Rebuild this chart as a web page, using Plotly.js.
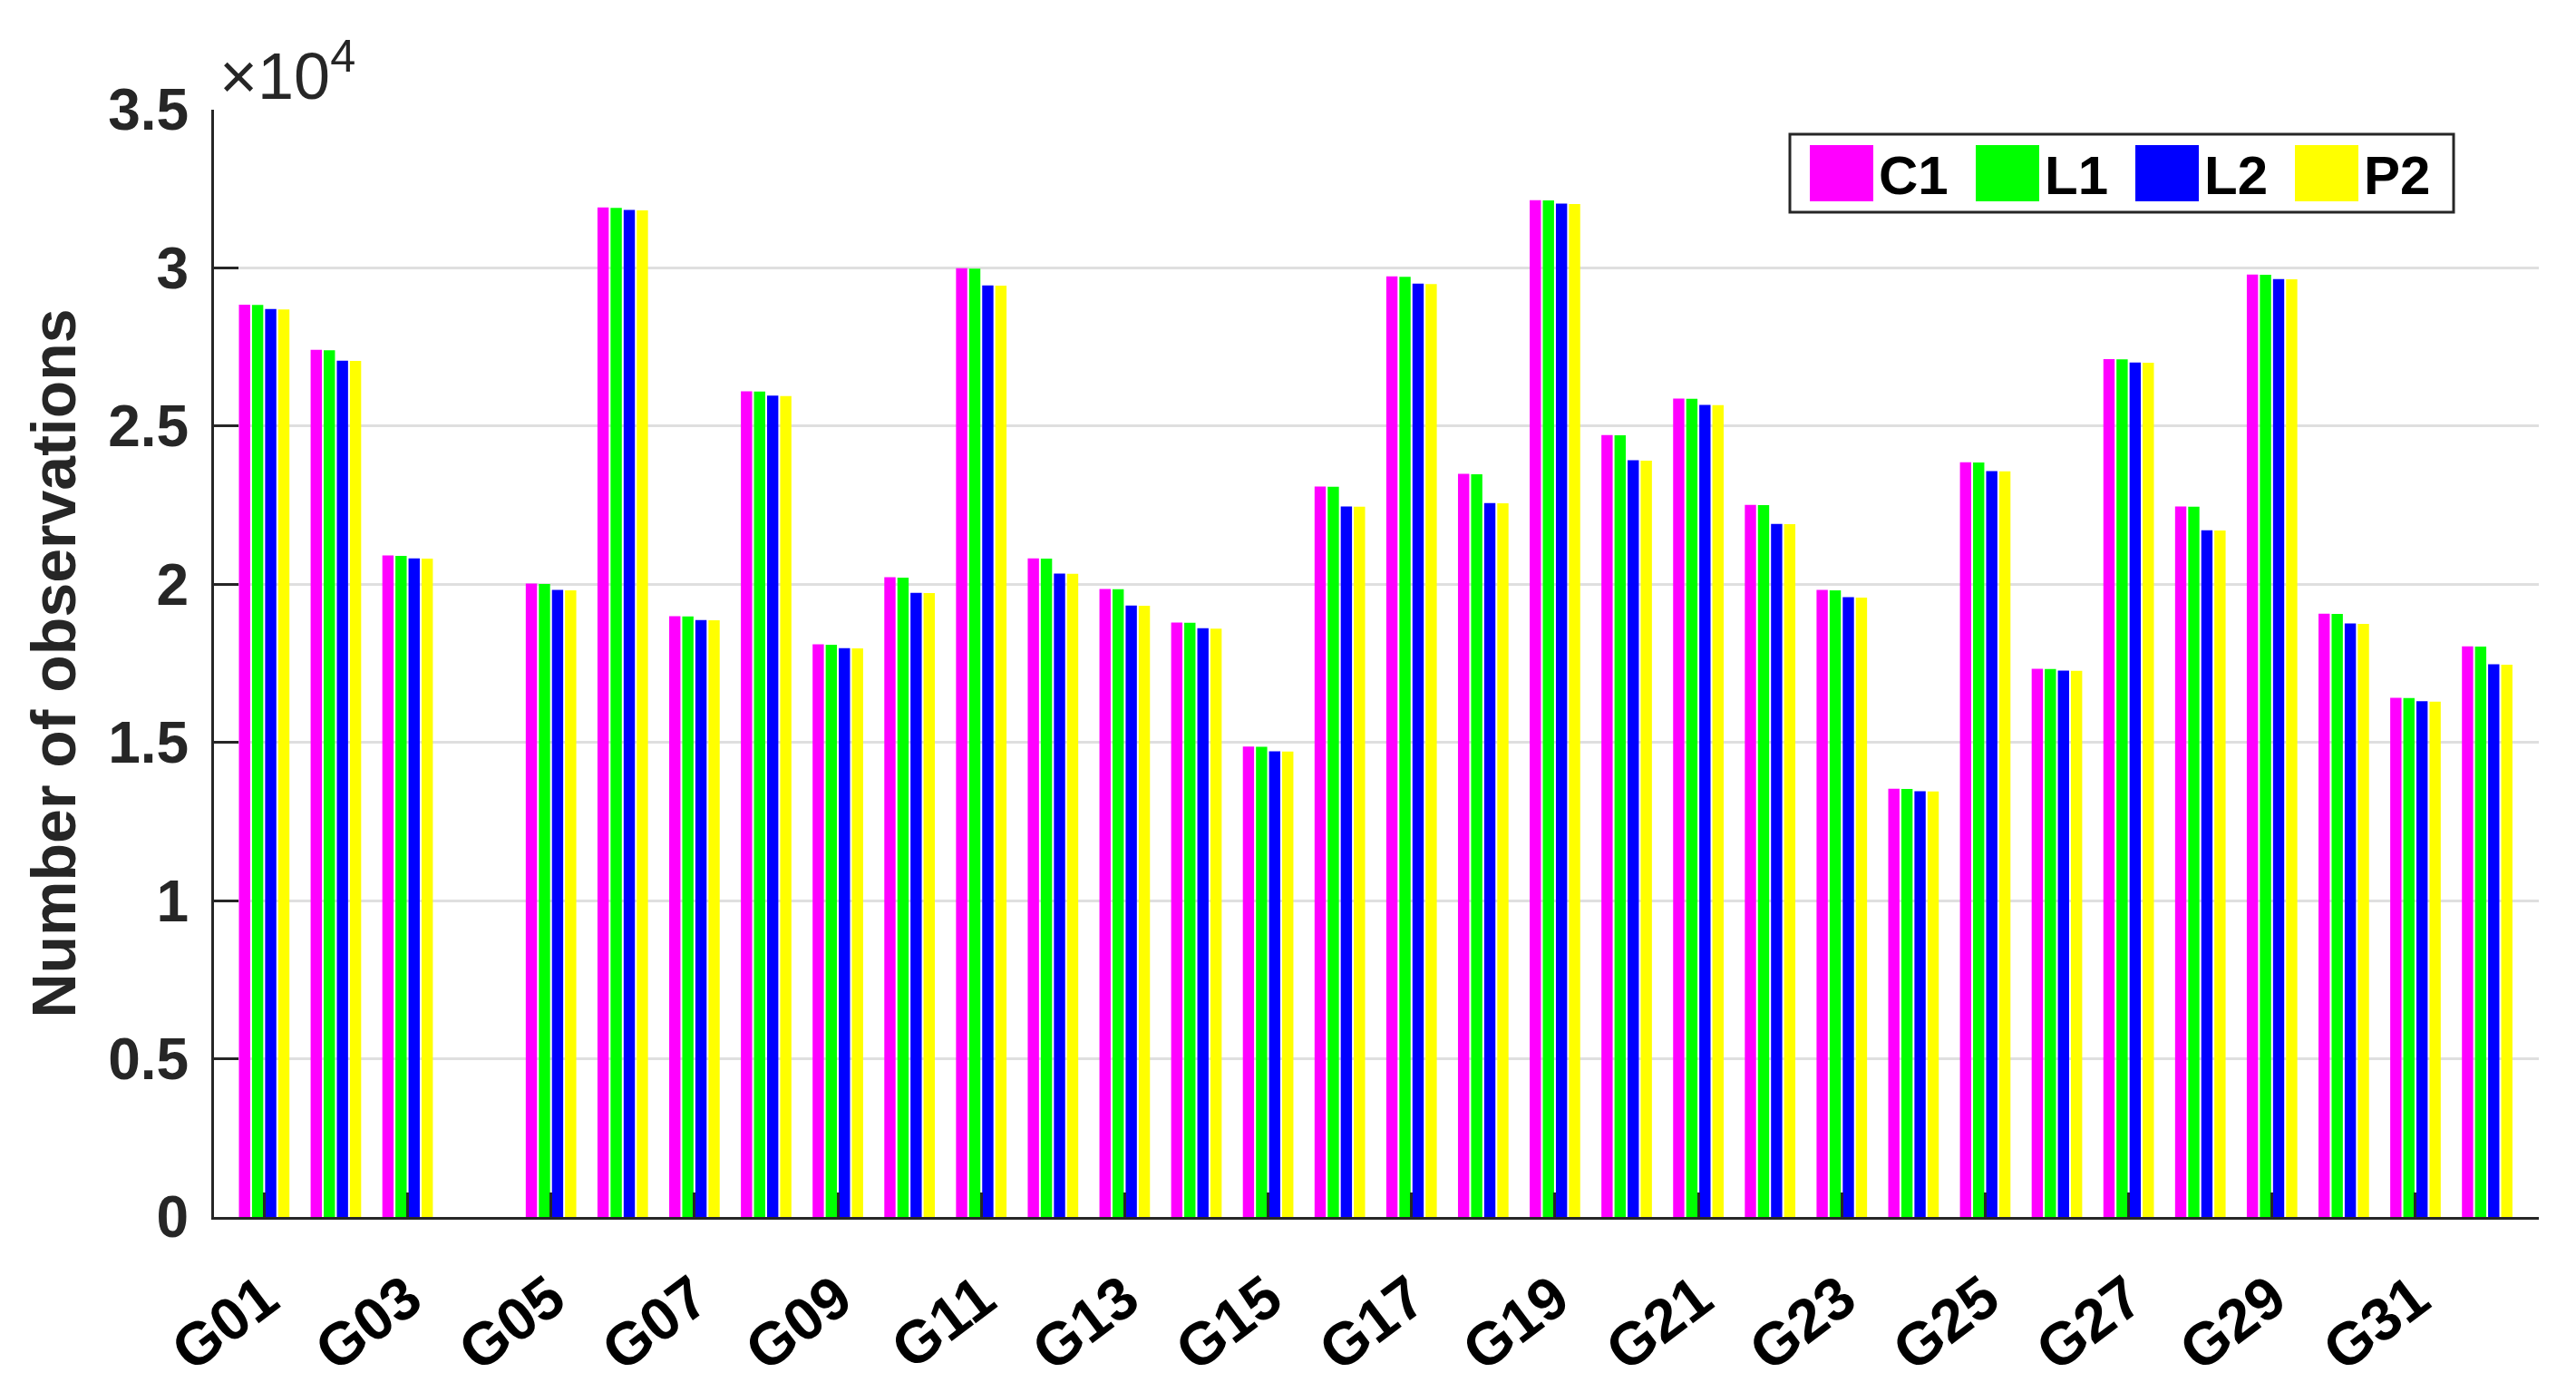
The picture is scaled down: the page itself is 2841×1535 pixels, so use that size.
<!DOCTYPE html>
<html>
<head>
<meta charset="utf-8">
<script src="https://cdn.plot.ly/plotly-3.0.1.min.js"></script>
<style>
  html, body { margin: 0; padding: 0; background: #fff; }
  #obs { width: 2841px; height: 1535px; }
</style>
</head>
<body>
<div id="obs"></div>
<script>
var categories = ['G01','G02','G03','G04','G05','G06','G07','G08','G09','G10','G11','G12','G13','G14','G15','G16',
                  'G17','G18','G19','G20','G21','G22','G23','G24','G25','G26','G27','G28','G29','G30','G31','G32'];
var tickLabels = ['G01','G03','G05','G07','G09','G11','G13','G15','G17','G19','G21','G23','G25','G27','G29','G31'];

var c1 = [28840,27410,20910,null,20020,31910,18990,26100,18100,20220,29990,20820,19850,18790,14870,23090,
          29730,23490,32140,24720,25870,22510,19820,13540,23860,17330,27120,22460,29790,19070,16410,18040];
var l1 = [28830,27400,20900,null,20010,31900,18980,26090,18090,20210,29980,20810,19840,18780,14860,23080,
          29720,23480,32130,24710,25860,22500,19810,13530,23850,17320,27110,22450,29780,19060,16400,18030];
var l2 = [28700,27065,20820,null,19820,31830,18870,25960,17980,19730,29445,20335,19330,18610,14720,22460,
          29500,22570,32030,23920,25670,21910,19590,13460,23580,17270,27010,21710,29650,18760,16300,17470];
var p2 = [28690,27060,20810,null,19810,31820,18860,25950,17970,19720,29440,20330,19320,18600,14710,22450,
          29490,22560,32020,23910,25660,21900,19580,13450,23570,17260,27000,21700,29640,18750,16290,17460];

var yTickVals = [0,5000,10000,15000,20000,25000,30000,35000];
var yTickText = ['0','0.5','1','1.5','2','2.5','3','3.5'];

var seriesNames = ['C1','L1','L2','P2'];
var seriesColors = ['#ff00ff','#00ff00','#0000ff','#ffff00'];
var seriesValues = [c1, l1, l2, p2];

var FONT = 'Liberation Sans, Arial, Helvetica, sans-serif';
var INK = '#262626';

// plot box in page pixels, used to place the hand-made legend
var L = 236, R = 2800, T = 121, B = 1342;
function px(x) { return (x - L) / (R - L); }
function py(y) { return (B - y) / (B - T); }

var data = seriesValues.map(function (vals, i) {
  return {
    type: 'bar',
    x: categories,
    y: vals,
    name: seriesNames[i],
    marker: {color: seriesColors[i], line: {width: 0}},
    showlegend: false
  };
});

// legend drawn like the MATLAB one: big swatches in a framed row
var shapes = [{
  type: 'rect', xref: 'paper', yref: 'paper',
  x0: px(1974), x1: px(2706), y0: py(234), y1: py(148),
  line: {color: INK, width: 3}, fillcolor: '#ffffff', layer: 'above'
}];
var annotations = [{
  xref: 'paper', yref: 'paper', x: px(240), y: py(126),
  xanchor: 'left', yanchor: 'bottom', showarrow: false,
  text: '\u00d710<sup>4</sup>',
  font: {family: FONT, size: 72, color: INK}
}];
var swatchX = [1996, 2179, 2355, 2531];
seriesNames.forEach(function (nm, i) {
  shapes.push({
    type: 'rect', xref: 'paper', yref: 'paper',
    x0: px(swatchX[i]), x1: px(swatchX[i] + 70), y0: py(222), y1: py(160),
    line: {width: 0}, fillcolor: seriesColors[i], layer: 'above'
  });
  annotations.push({
    xref: 'paper', yref: 'paper', x: px(swatchX[i] + 74), y: py(193),
    xanchor: 'left', yanchor: 'middle', showarrow: false,
    text: nm,
    font: {family: FONT, size: 60, color: '#000000', weight: 'bold'}
  });
});

var layout = {
  width: 2841,
  height: 1535,
  margin: {l: L, r: 2841 - R, t: T, b: 1535 - B},
  paper_bgcolor: '#ffffff',
  plot_bgcolor: '#ffffff',
  barmode: 'group',
  bargap: 0.27,
  bargroupgap: 0.14,
  showlegend: false,
  xaxis: {
    type: 'category',
    categoryorder: 'array',
    categoryarray: categories,
    range: [-0.7, 31.72],
    tickmode: 'array',
    tickvals: tickLabels,
    ticktext: tickLabels,
    ticks: 'inside',
    ticklen: 27,
    tickwidth: 3,
    tickcolor: INK,
    tickangle: -37,
    ticklabelstandoff: 22,
    tickfont: {family: FONT, size: 66, color: '#000000', weight: 'bold'},
    showline: true,
    linecolor: INK,
    linewidth: 3,
    showgrid: false,
    zeroline: false,
    fixedrange: true
  },
  yaxis: {
    range: [0, 35000],
    tickmode: 'array',
    tickvals: yTickVals,
    ticktext: yTickText,
    ticks: 'inside',
    ticklen: 27,
    tickwidth: 3,
    tickcolor: INK,
    ticklabelstandoff: 12,
    tickfont: {family: FONT, size: 64, color: INK, weight: 'bold'},
    showline: true,
    linecolor: INK,
    linewidth: 3,
    showgrid: true,
    gridcolor: '#dfdfdf',
    gridwidth: 3,
    zeroline: false,
    fixedrange: true,
    title: {
      text: 'Number of observations',
      font: {family: FONT, size: 68, color: INK, weight: 'bold'},
      standoff: 14
    }
  },
  shapes: shapes,
  annotations: annotations
};

Plotly.newPlot('obs', data, layout, {displayModeBar: false, staticPlot: true});
</script>
</body>
</html>
